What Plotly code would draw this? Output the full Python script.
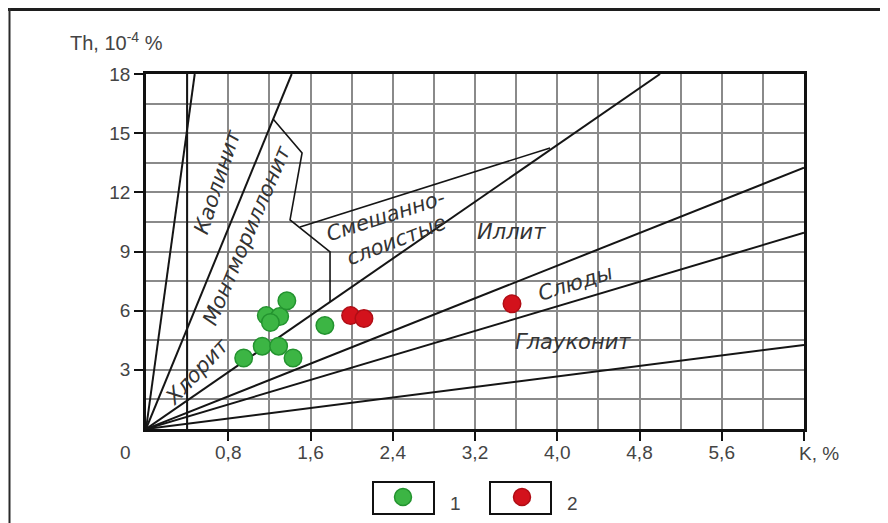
import plotly.graph_objects as go

# ---- data ----
group1_K = [0.95, 1.13, 1.29, 1.43, 1.17, 1.30, 1.21, 1.37, 1.74]
group1_Th = [3.6, 4.2, 4.2, 3.6, 5.75, 5.7, 5.4, 6.5, 5.25]
group2_K = [1.99, 2.12, 3.56]
group2_Th = [5.75, 5.6, 6.35]

# boundary lines from the origin: end points (K, Th)
line_K_end = [0.474, 1.417, 5.0, 6.4, 6.4, 6.4]
line_Th_end = [18, 18, 18, 13.25, 9.95, 4.26]
kaolinite_vert_K = [0.4, 0.4]
kaolinite_vert_Th = [0, 18]

# mixed-layer region outline
mixed_K = [1.236, 1.518, 1.401, 1.790, 1.790]
mixed_Th = [15.72, 14.0, 10.6, 8.98, 6.44]
mixed_top_K = [1.498, 3.93]
mixed_top_Th = [10.24, 14.25]

# region labels
label_text = ["Каолинит", "Монтмориллонит", "Хлорит", "Смешанно-", "слоистые",
              "Иллит", "Слюды", "Глауконит"]
label_K = [0.697, 0.981, 0.50, 2.325, 2.441, 3.559, 4.176, 4.15]
label_Th = [12.5, 9.84, 2.95, 10.8, 9.58, 9.99, 7.4, 4.41]
label_angle = [-72, -67, -47, -18, -21, 0, -17, 0]

x_tickvals = [0.8, 1.6, 2.4, 3.2, 4.0, 4.8, 5.6, 6.4]
x_ticktext = ["0,8", "1,6", "2,4", "3,2", "4,0", "4,8", "5,6", " "]
y_tickvals = [3, 6, 9, 12, 15, 18]

legend_labels = ["1", "2"]

GREEN = "#3cb544"
GREEN_EDGE = "#23932f"
RED = "#d3121c"
RED_EDGE = "#b00d15"

fig = go.Figure()

for ke, te in zip(line_K_end, line_Th_end):
    fig.add_trace(go.Scatter(x=[0, ke], y=[0, te], mode="lines",
                             line=dict(color="#151515", width=2), showlegend=False,
                             hoverinfo="skip"))
fig.add_trace(go.Scatter(x=kaolinite_vert_K, y=kaolinite_vert_Th, mode="lines",
                         line=dict(color="#151515", width=2), showlegend=False))
fig.add_trace(go.Scatter(x=mixed_K, y=mixed_Th, mode="lines",
                         line=dict(color="#151515", width=1.6), showlegend=False))
fig.add_trace(go.Scatter(x=mixed_top_K, y=mixed_top_Th, mode="lines",
                         line=dict(color="#151515", width=1.6), showlegend=False))

fig.add_trace(go.Scatter(x=group1_K, y=group1_Th, mode="markers", name="1",
                         marker=dict(size=17.5, color=GREEN, line=dict(color=GREEN_EDGE, width=1.5)),
                         showlegend=False))
fig.add_trace(go.Scatter(x=group2_K, y=group2_Th, mode="markers", name="2",
                         marker=dict(size=17.5, color=RED, line=dict(color=RED_EDGE, width=1.5)),
                         showlegend=False))

annotations = []
for t, k, th, a in zip(label_text, label_K, label_Th, label_angle):
    annotations.append(dict(x=k, y=th, xref="x", yref="y", text="<i>" + t + "</i>",
                            showarrow=False, textangle=a,
                            font=dict(family="DejaVu Sans", size=21, color="#333333")))


def px2paper(px, py):
    # window pixel coordinates -> paper coordinates (plot area spans 146..804 x 74..429)
    return (px - 146) / 658, (429 - py) / 355


tick_font = dict(family="Liberation Sans", size=19, color="#444444")
for txt, px, py in [("0", 125, 453), ("K, %", 819, 454),
                    (legend_labels[0], 455, 503), (legend_labels[1], 572, 503)]:
    x, y = px2paper(px, py)
    annotations.append(dict(x=x, y=y, xref="paper", yref="paper", text=txt, showarrow=False,
                            font=tick_font, xanchor="center", yanchor="middle"))
x, y = px2paper(68, 42)
annotations.append(dict(x=x, y=y, xref="paper", yref="paper", text="Th, 10<sup>-4</sup> %",
                        showarrow=False, xanchor="left", yanchor="middle",
                        font=dict(family="Liberation Sans", size=20, color="#444444")))

shapes = []
for (x0p, y0p, x1p, y1p) in [(373, 482, 434, 514), (490, 482, 551, 514)]:
    a0, b0 = px2paper(x0p, y0p)
    a1, b1 = px2paper(x1p, y1p)
    shapes.append(dict(type="rect", xref="paper", yref="paper", x0=a0, y0=b0, x1=a1, y1=b1,
                       line=dict(color="#111", width=2)))
# legend marker circles
for (cx, cy, fc, ec) in [(403, 497, GREEN, GREEN_EDGE), (522, 497, RED, RED_EDGE)]:
    a, b = px2paper(cx, cy)
    shapes.append(dict(type="circle", xref="paper", yref="paper",
                       xsizemode="pixel", ysizemode="pixel", xanchor=a, yanchor=b,
                       x0=-8.5, x1=8.5, y0=-8.5, y1=8.5,
                       fillcolor=fc, line=dict(color=ec, width=1.5)))
# dark top band and left frame line
a0, b0 = px2paper(0, 8)
a1, b1 = px2paper(888, 11)
shapes.append(dict(type="rect", xref="paper", yref="paper", x0=a0, y0=b0, x1=a1, y1=b1,
                   fillcolor="#1e1e1e", line=dict(width=0)))
a0, b0 = px2paper(9.5, 8)
a1, b1 = px2paper(9.5, 523)
shapes.append(dict(type="line", xref="paper", yref="paper", x0=a0, y0=b0, x1=a1, y1=b1,
                   line=dict(color="#2a2a2a", width=2)))

fig.update_layout(
    width=880, height=515,
    margin=dict(l=138, r=84, t=66, b=94),
    paper_bgcolor="white", plot_bgcolor="white",
    annotations=annotations, shapes=shapes,
    showlegend=False,
    xaxis=dict(range=[0, 6.4], tickvals=x_tickvals, ticktext=x_ticktext,
               ticks="outside", ticklen=9, tickwidth=2, tickcolor="#111",
               ticklabelstandoff=-5,
               showgrid=True, gridcolor="#8a8a8a", gridwidth=1.7,
               minor=dict(dtick=0.4, tick0=0, showgrid=True, gridcolor="#8a8a8a", gridwidth=1.7),
               showline=True, linecolor="#111", linewidth=2.5, mirror=True,
               zeroline=False, tickfont=tick_font, fixedrange=True),
    yaxis=dict(range=[0, 18], tickvals=y_tickvals,
               ticks="outside", ticklen=9, tickwidth=2, tickcolor="#111",
               showgrid=True, gridcolor="#8a8a8a", gridwidth=1.7,
               minor=dict(dtick=1.5, tick0=0, showgrid=True, gridcolor="#8a8a8a", gridwidth=1.7),
               showline=True, linecolor="#111", linewidth=2.5, mirror=True,
               zeroline=False, tickfont=tick_font, fixedrange=True),
)

fig.write_html("out.html")
